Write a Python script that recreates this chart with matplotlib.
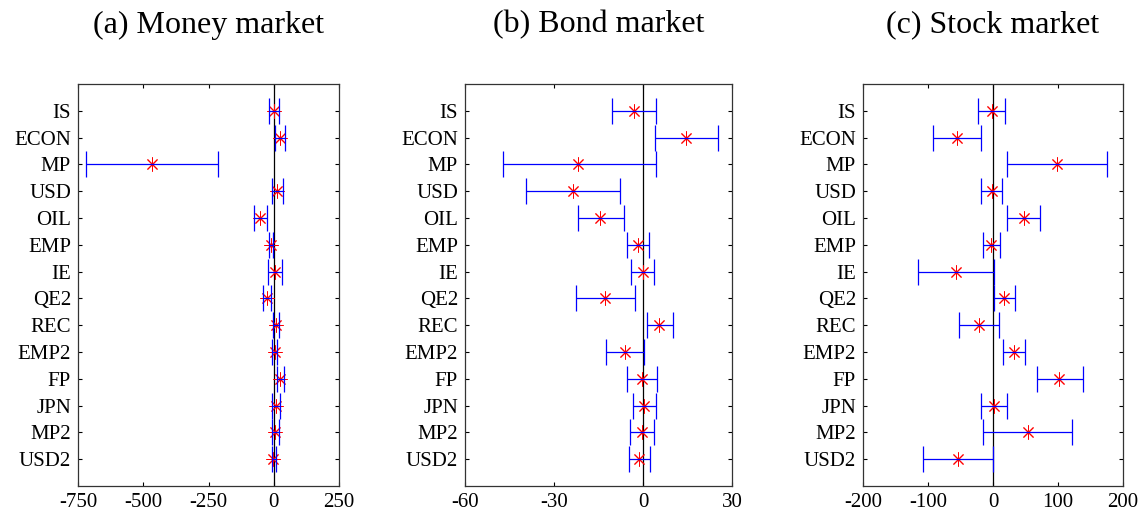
import matplotlib
matplotlib.use("Agg")
import matplotlib.pyplot as plt
import numpy as np

plt.rcParams['font.family'] = ['Liberation Serif', 'DejaVu Serif']

categories = ["IS", "ECON", "MP", "USD", "OIL", "EMP", "IE", "QE2", "REC",
              "EMP2", "FP", "JPN", "MP2", "USD2"]

titles = ["(a) Money market", "(b) Bond market", "(c) Stock market"]

# Money market
money_est = [0, 24, -468, 14, -54, -11, 6, -27, 8, 3, 24, 8, 3, -1]
money_lo = [-18, 6, -718, -8, -75, -20, -22, -42, -4, -8, 14, -6, -6, -6]
money_hi = [19, 45, -214, 34, -26, -3, 33, -10, 20, 13, 38, 23, 19, 8]

# Bond market
bond_est = [-3.0, 14.6, -21.8, -23.7, -14.4, -1.6, -0.1, -12.7, 5.5, -6.0, -0.4, 0.2, -0.2, -1.2]
bond_lo = [-10.3, 4.0, -47.3, -39.5, -21.9, -5.3, -4.2, -22.5, 1.2, -12.4, -5.5, -3.5, -4.5, -4.8]
bond_hi = [4.4, 25.4, 4.4, -7.8, -6.5, 2.1, 3.7, -2.6, 10.0, 0.3, 4.7, 4.3, 3.7, 2.5]

# Stock market
stock_est = [-2, -55, 99, -1, 47, -3, -57, 17, -21, 33, 102, 1, 54, -54]
stock_lo = [-23, -92, 22, -18, 22, -16, -115, 1, -52, 16, 67, -18, -16, -108]
stock_hi = [18, -19, 176, 14, 73, 11, 1, 34, 9, 49, 139, 21, 122, 0]

xlims = [(-750, 250), (-60, 30), (-200, 200)]
xticks = [[-750, -500, -250, 0, 250], [-60, -30, 0, 30], [-200, -100, 0, 100, 200]]

panels = [(money_est, money_lo, money_hi),
          (bond_est, bond_lo, bond_hi),
          (stock_est, stock_lo, stock_hi)]

fig = plt.figure(figsize=(11.44, 5.16), dpi=100)
W, H = 1144, 516
boxes = [(78, 339), (465, 732), (863, 1123)]
top_px, bot_px = 84, 486

ypos = np.arange(1, len(categories) + 1)

for i, (est, lo, hi) in enumerate(panels):
    l, r = boxes[i]
    ax = fig.add_axes([l / W, 1 - bot_px / H, (r - l) / W, (bot_px - top_px) / H])
    est = np.array(est, float)
    lo = np.array(lo, float)
    hi = np.array(hi, float)
    ax.axvline(0, color='black', lw=0.9, zorder=1)
    ax.plot(est, ypos, linestyle='none', marker=(8, 2, 0), markersize=10,
            markeredgecolor='#ff0000', markeredgewidth=0.7, color='#ff0000', zorder=2)
    ax.errorbar(est, ypos, xerr=[est - lo, hi - est], fmt='none',
                ecolor='#0000ff', elinewidth=0.9, capsize=9.7, capthick=0.9, zorder=3)
    ax.set_xlim(*xlims[i])
    ax.set_ylim(15, 0)
    ax.set_xticks(xticks[i])
    ax.set_xticklabels([str(t) for t in xticks[i]])
    ax.set_yticks(ypos)
    ax.set_yticklabels(categories)
    ax.tick_params(direction='in', length=3, width=0.8, top=True, right=True,
                   labelsize=15, pad=5, colors='black')
    for sp in ax.spines.values():
        sp.set_color('0.2')
        sp.set_linewidth(0.9)
    ax.set_title(titles[i], fontsize=23, pad=37)

fig.savefig("out.png", dpi=100)
